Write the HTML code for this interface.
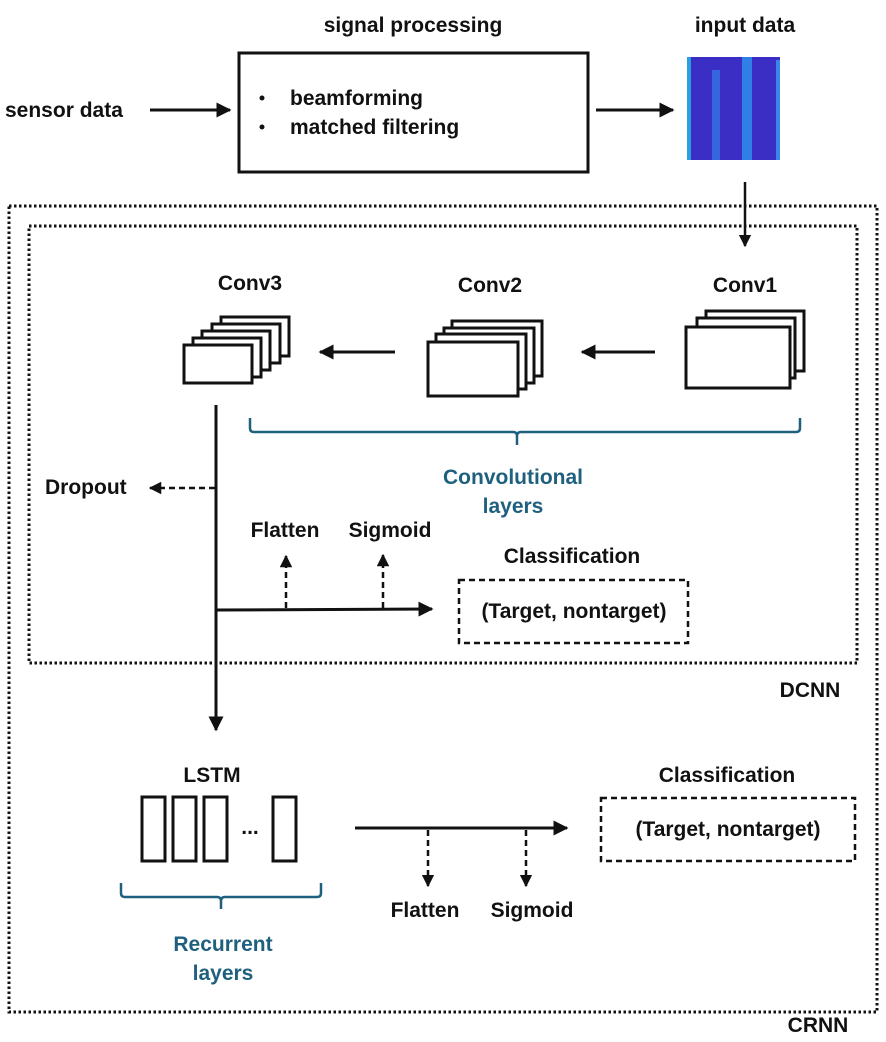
<!DOCTYPE html>
<html><head><style>
body{margin:0;background:#fff;}
svg{display:block;}
text{font-family:"Liberation Sans","Noto Sans CJK KR",sans-serif;font-weight:bold;font-size:21px;fill:#111;}
.b{fill:#1f607f;}
</style></head><body>
<svg width="886" height="1042" viewBox="0 0 886 1042" xmlns="http://www.w3.org/2000/svg">
<defs>
<marker id="ar" viewBox="0 0 10 10" refX="9" refY="5" markerWidth="5" markerHeight="5" orient="auto"><path d="M0,0L10,5L0,10z" fill="#111"/></marker>
</defs>
<g stroke="#111" stroke-width="3" fill="none">
<rect x="239" y="53" width="349" height="119"/>
<line x1="150" y1="110" x2="230" y2="110" marker-end="url(#ar)"/>
<line x1="596" y1="110" x2="673" y2="110" marker-end="url(#ar)"/>
<line x1="745" y1="182" x2="745" y2="246" stroke-width="2.5" marker-end="url(#ar)"/>
</g>
<rect x="687" y="57" width="93" height="103" fill="#3b2ec4"/>
<rect x="687" y="57" width="4" height="103" fill="#2a9fe0"/>
<rect x="712" y="70" width="8" height="90" fill="#3566e0"/>
<rect x="742" y="57" width="10" height="103" fill="#2f7fe6"/>
<rect x="776" y="60" width="4" height="100" fill="#3a86e8"/>
<g stroke="#111" stroke-width="3" fill="none" stroke-dasharray="2.5 2.5">
<rect x="9" y="206" width="868" height="806"/>
<rect x="29" y="226" width="828" height="437"/>
</g>
<g stroke="#111" stroke-width="3" fill="#fff">
<rect x="706" y="311" width="98" height="60"/>
<rect x="697" y="318" width="98" height="60"/>
<rect x="686" y="327" width="104" height="61"/>
<rect x="452" y="321" width="90" height="55"/>
<rect x="444" y="328" width="90" height="55"/>
<rect x="436" y="334" width="90" height="55"/>
<rect x="428" y="342" width="90" height="54"/>
<rect x="221" y="317" width="68" height="39"/>
<rect x="212" y="324" width="68" height="39"/>
<rect x="202" y="331" width="68" height="39"/>
<rect x="193" y="338" width="68" height="39"/>
<rect x="184" y="345" width="68" height="38"/>
<rect x="142" y="797" width="23" height="64"/>
<rect x="173" y="797" width="23" height="64"/>
<rect x="204" y="797" width="23" height="64"/>
<rect x="273" y="797" width="23" height="64"/>
</g>
<g stroke="#111" stroke-width="3" fill="none">
<line x1="655" y1="352" x2="582" y2="352" marker-end="url(#ar)"/>
<line x1="395" y1="352" x2="320" y2="352" marker-end="url(#ar)"/>
<line x1="216" y1="405" x2="216" y2="730" marker-end="url(#ar)"/>
<line x1="216" y1="610" x2="432" y2="609" marker-end="url(#ar)"/>
<line x1="355" y1="828" x2="567" y2="828" marker-end="url(#ar)"/>
</g>
<g stroke="#111" stroke-width="2.5" fill="none" stroke-dasharray="6 4">
<line x1="215" y1="488" x2="150" y2="488" marker-end="url(#ar)"/>
<line x1="286" y1="608" x2="286" y2="556" marker-end="url(#ar)"/>
<line x1="383" y1="608" x2="383" y2="555" marker-end="url(#ar)"/>
<line x1="428" y1="830" x2="428" y2="886" marker-end="url(#ar)"/>
<line x1="526" y1="830" x2="526" y2="886" marker-end="url(#ar)"/>
<rect x="459" y="580" width="229" height="63"/>
<rect x="601" y="798" width="254" height="63"/>
</g>
<g stroke="#1f607f" stroke-width="2.5" fill="none">
<path d="M250,418 v10 q0,4 4,4 h259 q4,0 4,4 v9 M517,436 q0,-4 4,-4 h275 q4,0 4,-4 v-10"/>
<path d="M121,883 v10 q0,4 4,4 h92 q4,0 4,4 v8 M221,901 q0,-4 4,-4 h92 q4,0 4,-4 v-10"/>
</g>
<circle cx="262" cy="98" r="2.5" fill="#111"/>
<circle cx="262" cy="127" r="2.5" fill="#111"/>
<text x="413" y="32" text-anchor="middle">signal processing</text>
<text x="745" y="32" text-anchor="middle">input data</text>
<text x="5" y="117">sensor data</text>
<text x="290" y="105">beamforming</text>
<text x="290" y="134">matched filtering</text>
<text x="250" y="290" text-anchor="middle">Conv3</text>
<text x="490" y="292" text-anchor="middle">Conv2</text>
<text x="745" y="292" text-anchor="middle">Conv1</text>
<text class="b" x="513" y="484" text-anchor="middle">Convolutional</text>
<text class="b" x="513" y="513" text-anchor="middle">layers</text>
<text x="45" y="494">Dropout</text>
<text x="285" y="537" text-anchor="middle">Flatten</text>
<text x="390" y="537" text-anchor="middle">Sigmoid</text>
<text x="572" y="563" text-anchor="middle">Classification</text>
<text x="574" y="618" text-anchor="middle">(Target, nontarget)</text>
<text x="810" y="697" text-anchor="middle">DCNN</text>
<text x="212" y="782" text-anchor="middle">LSTM</text>
<text x="250" y="834" text-anchor="middle">...</text>
<text class="b" x="223" y="951" text-anchor="middle">Recurrent</text>
<text class="b" x="223" y="980" text-anchor="middle">layers</text>
<text x="425" y="917" text-anchor="middle">Flatten</text>
<text x="532" y="917" text-anchor="middle">Sigmoid</text>
<text x="727" y="782" text-anchor="middle">Classification</text>
<text x="728" y="836" text-anchor="middle">(Target, nontarget)</text>
<text x="818" y="1032" text-anchor="middle">CRNN</text>
</svg>
</body></html>
